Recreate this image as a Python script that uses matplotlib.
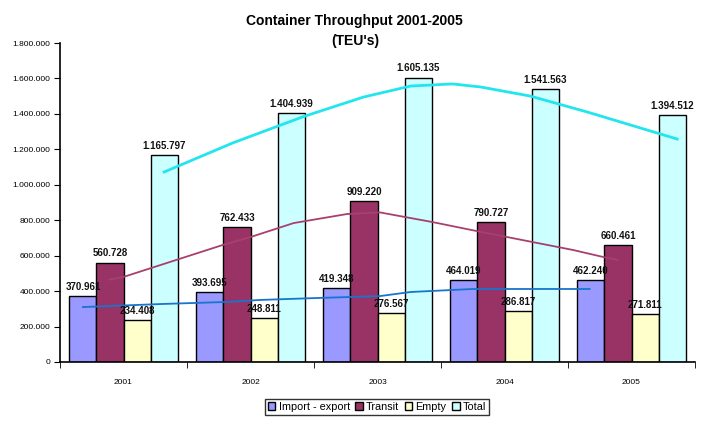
import matplotlib
matplotlib.use('Agg')
from matplotlib import pyplot as plt
from matplotlib.patches import Patch
import numpy as np

plt.rcParams['font.family'] = ['Liberation Sans', 'DejaVu Sans']

# data
years = ['2001', '2002', '2003', '2004', '2005']
import_export = [370961, 393695, 419348, 464019, 462240]
transit = [560728, 762433, 909220, 790727, 660461]
empty = [234408, 248811, 276567, 286817, 271811]
total = [1165797, 1404939, 1605135, 1541563, 1394512]

# trend lines (x in category units, 0 = 2001)
trend_import_x = [-0.32, 0.29, 0.82, 1.07, 1.52, 2.02, 2.26, 2.75, 3.20, 3.67]
trend_import_y = [310000, 327000, 339000, 350000, 361000, 372000, 395000, 412000, 412000, 412000]
trend_transit_x = [-0.11, 0.0, 0.78, 1.0, 1.34, 1.76, 2.02, 2.43, 2.78, 3.22, 3.54, 3.78, 3.89]
trend_transit_y = [465000, 480000, 660000, 705000, 784000, 835000, 844000, 790000, 739000, 677000, 632000, 592000, 576000]
trend_total_x = [0.32, 0.86, 1.41, 1.89, 2.26, 2.59, 2.81, 3.20, 3.65, 4.36]
trend_total_y = [1072000, 1236000, 1383000, 1495000, 1557000, 1569000, 1552000, 1501000, 1411000, 1258000]


def fmt(v):
    return '{:,}'.format(int(v)).replace(',', '.')


fig = plt.figure(figsize=(7.09, 4.25), dpi=100)
ax = fig.add_axes([60 / 709, 1 - 362 / 425, 635 / 709, 319 / 425])

x = np.arange(len(years))
w = 0.2126
series = [
    ('Import - export', import_export, '#9999FF'),
    ('Transit', transit, '#993366'),
    ('Empty', empty, '#FFFFCC'),
    ('Total', total, '#CCFFFF'),
]
for i, (name, vals, col) in enumerate(series):
    pos = x + (i - 1.5) * w
    ax.bar(pos, vals, w, color=col, edgecolor='black', linewidth=1.0, zorder=2)
    for px, v in zip(pos, vals):
        ax.annotate(fmt(v), (px, v), xytext=(0, 3), textcoords='offset points',
                    ha='center', va='bottom', fontsize=7, fontweight='bold',
                    color='#111111', zorder=5)

ax.plot(trend_import_x, trend_import_y, color='#1874CD', lw=1.3, zorder=4)
ax.plot(trend_transit_x, trend_transit_y, color='#A8406E', lw=1.3, zorder=4)
ax.plot(trend_total_x, trend_total_y, color='#22E5EE', lw=2.0, zorder=4)

ax.set_xlim(-0.5, 4.5)
ax.set_ylim(0, 1800000)
ax.set_yticks(np.arange(0, 1800001, 200000))
ax.set_yticklabels([fmt(v) for v in np.arange(0, 1800001, 200000)], fontsize=6)
ax.set_xticks(x)
ax.set_xticklabels(years, fontsize=6)
ax.set_xticks(np.arange(-0.5, 5.0, 1.0), minor=True)
ax.tick_params(axis='x', which='major', length=0, pad=12)
ax.tick_params(axis='x', which='minor', length=4, direction='out')
ax.tick_params(axis='y', length=4, direction='out', pad=3)
for s in ['top', 'right']:
    ax.spines[s].set_visible(False)
for s in ['left', 'bottom']:
    ax.spines[s].set_linewidth(1.2)

fig.text(354 / 709, 1 - 21 / 425, 'Container Throughput 2001-2005', ha='center', va='center',
         fontsize=10, fontweight='bold')
fig.text(355 / 709, 1 - 41 / 425, "(TEU's)", ha='center', va='center',
         fontsize=10, fontweight='bold')

handles = [Patch(facecolor=c, edgecolor='black', linewidth=1.0) for _, _, c in series]
leg = fig.legend(handles, [n for n, _, _ in series], loc='center',
                 bbox_to_anchor=(377 / 709, 1 - 407 / 425), ncol=4, fontsize=7.8,
                 frameon=True, fancybox=False, handlelength=0.7, handleheight=0.8,
                 handletextpad=0.3, columnspacing=0.5, borderpad=0.3, borderaxespad=0)
leg.get_frame().set_edgecolor('black')
leg.get_frame().set_linewidth(1.0)

fig.savefig('out.png', dpi=100)
